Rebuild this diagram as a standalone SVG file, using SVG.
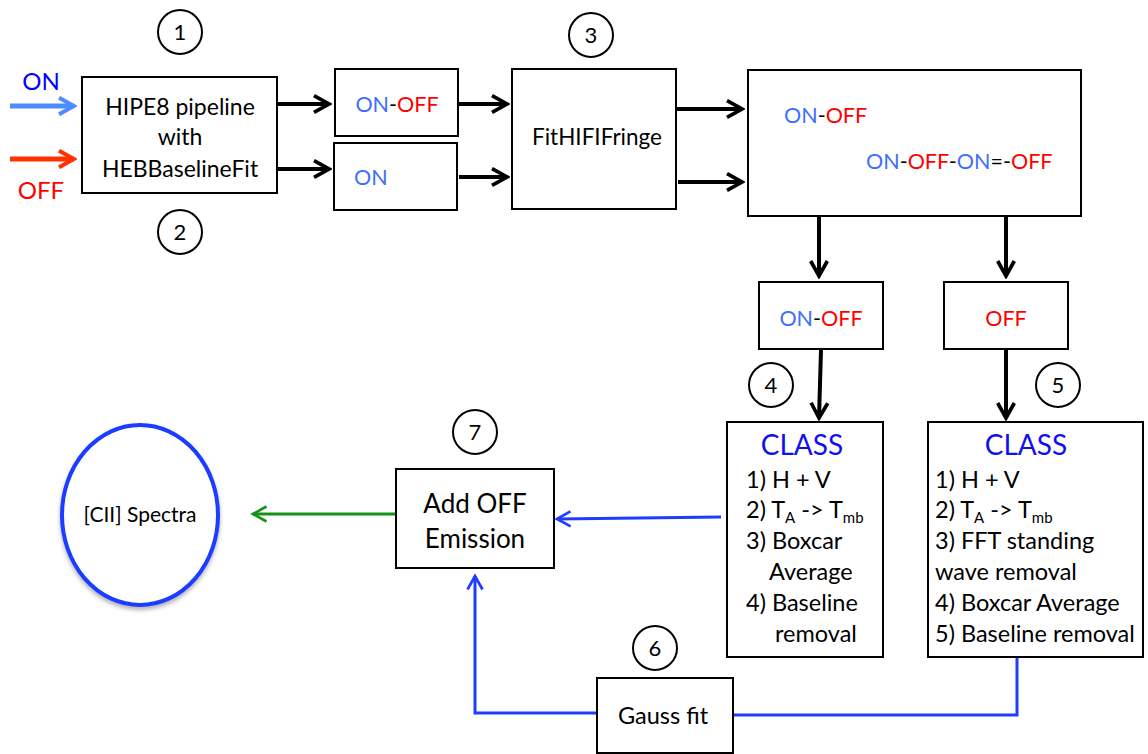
<svg xmlns="http://www.w3.org/2000/svg" width="1148" height="754" viewBox="0 0 1148 754">
<defs>
<style>
text{font-family:Lato,"Open Sans","Liberation Sans",sans-serif;fill:#000}
.box{fill:#fff;stroke:#000;stroke-width:2}
.num{fill:#fff;stroke:#000;stroke-width:2}
.nt{font-size:22px;text-anchor:middle}
.t{font-size:23px}
.s{font-size:21.5px}
.bl{fill:#3d6fff}
.rd{fill:#ff0000}
.cls{font-size:28px;fill:#1010ee;text-anchor:middle}
.li{font-size:23.5px}
.sub{font-size:15px}
.blk{stroke:#000;stroke-width:4;fill:none}
.blu{stroke:#1f3dff;stroke-width:3;fill:none}
</style>
<marker id="ak" viewBox="0 0 12 12" refX="10" refY="6" markerWidth="5" markerHeight="5" orient="auto" markerUnits="strokeWidth"><path d="M1,1 L10,6 L1,11" fill="none" stroke="#000" stroke-width="2.2"/></marker>
<marker id="ab" viewBox="0 0 12 12" refX="10" refY="6" markerWidth="6" markerHeight="6" orient="auto" markerUnits="strokeWidth"><path d="M1,1 L10,6 L1,11" fill="none" stroke="#1f3dff" stroke-width="1.8"/></marker>
<marker id="ag" viewBox="0 0 12 12" refX="10" refY="6" markerWidth="6" markerHeight="6" orient="auto" markerUnits="strokeWidth"><path d="M1,1 L10,6 L1,11" fill="none" stroke="#149414" stroke-width="1.8"/></marker>
<marker id="alb" viewBox="0 0 12 12" refX="10" refY="6" markerWidth="4" markerHeight="4" orient="auto" markerUnits="strokeWidth"><path d="M1,1 L10,6 L1,11" fill="none" stroke="#4d8bff" stroke-width="2.4"/></marker>
<marker id="ar" viewBox="0 0 12 12" refX="10" refY="6" markerWidth="4" markerHeight="4" orient="auto" markerUnits="strokeWidth"><path d="M1,1 L10,6 L1,11" fill="none" stroke="#ff3300" stroke-width="2.4"/></marker>
<filter id="sh" x="-20%" y="-20%" width="140%" height="140%"><feDropShadow dx="0" dy="3" stdDeviation="2" flood-color="#000" flood-opacity="0.3"/></filter>
</defs>
<rect width="1148" height="754" fill="#fff"/>

<g id="connectors">
<line x1="10" y1="106" x2="74" y2="106" stroke="#4d8bff" stroke-width="5" marker-end="url(#alb)"/>
<line x1="10" y1="159" x2="74" y2="159" stroke="#ff3300" stroke-width="5" marker-end="url(#ar)"/>
<line x1="278" y1="104" x2="329" y2="104" class="blk" marker-end="url(#ak)"/>
<line x1="278" y1="169" x2="329" y2="169" class="blk" marker-end="url(#ak)"/>
<line x1="459" y1="104" x2="507" y2="104" class="blk" marker-end="url(#ak)"/>
<line x1="459" y1="177" x2="507" y2="177" class="blk" marker-end="url(#ak)"/>
<line x1="677" y1="109" x2="742" y2="109" class="blk" marker-end="url(#ak)"/>
<line x1="678" y1="182" x2="742" y2="182" class="blk" marker-end="url(#ak)"/>
<line x1="819" y1="137" x2="819" y2="276" class="blk" marker-end="url(#ak)"/>
<line x1="1006" y1="182" x2="1006" y2="276" class="blk" marker-end="url(#ak)"/>
<line x1="821" y1="350" x2="819" y2="418" class="blk" marker-end="url(#ak)"/>
<line x1="1006" y1="350" x2="1006" y2="418" class="blk" marker-end="url(#ak)"/>
<line x1="721" y1="517" x2="557" y2="519" class="blu" marker-end="url(#ab)"/>
<line x1="396" y1="514" x2="253" y2="514" stroke="#149414" stroke-width="3" marker-end="url(#ag)"/>
<polyline points="597,713 475,713 475,576" class="blu" marker-end="url(#ab)"/>
<polyline points="1017,658 1017,715 734,715" class="blu"/>
</g>

<g id="in-labels">
<text x="41" y="90" style="fill:#0000ff;font-size:24px" text-anchor="middle">ON</text>
<text x="41" y="199" style="fill:#ff0000;font-size:24px" text-anchor="middle">OFF</text>
</g>

<g id="n1"><circle cx="180" cy="32" r="22" class="num"/><text x="180" y="40" class="nt">1</text></g>
<g id="n2"><circle cx="180" cy="232" r="22" class="num"/><text x="180" y="240" class="nt">2</text></g>
<g id="n3"><circle cx="591" cy="35" r="22" class="num"/><text x="591" y="43" class="nt">3</text></g>
<g id="n4"><circle cx="771" cy="385" r="22" class="num"/><text x="771" y="393" class="nt">4</text></g>
<g id="n5"><circle cx="1058" cy="385" r="22" class="num"/><text x="1058" y="393" class="nt">5</text></g>
<g id="n6"><circle cx="655" cy="648" r="22" class="num"/><text x="655" y="656" class="nt">6</text></g>
<g id="n7"><circle cx="475" cy="432" r="22" class="num"/><text x="475" y="440" class="nt">7</text></g>

<g id="hipe">
<rect x="82" y="77" width="195" height="116" class="box"/>
<text x="180" y="115" class="t" text-anchor="middle">HIPE8 pipeline</text>
<text x="180" y="145" class="t" text-anchor="middle">with</text>
<text x="180" y="177" class="t" text-anchor="middle">HEBBaselineFit</text>
</g>

<g id="onoff1">
<rect x="335" y="69" width="123" height="67" class="box"/>
<text x="397" y="112" class="s" text-anchor="middle"><tspan class="bl">ON</tspan>-<tspan class="rd">OFF</tspan></text>
</g>
<g id="on1">
<rect x="334" y="143" width="123" height="67" class="box"/>
<text x="354" y="185" class="s bl">ON</text>
</g>

<g id="fringe">
<rect x="512" y="69" width="164" height="140" class="box"/>
<text x="597" y="145" font-size="22.5" text-anchor="middle">FitHIFIFringe</text>
</g>

<g id="result">
<rect x="748" y="70" width="333" height="146" class="box"/>
<text x="784" y="123" class="s"><tspan class="bl">ON</tspan>-<tspan class="rd">OFF</tspan></text>
<text x="866" y="169" class="s"><tspan class="bl">ON</tspan>-<tspan class="rd">OFF</tspan>-<tspan class="bl">ON</tspan>=-<tspan class="rd">OFF</tspan></text>
</g>

<g id="onoff2">
<rect x="759" y="282" width="124" height="67" class="box"/>
<text x="821" y="326" class="s" text-anchor="middle"><tspan class="bl">ON</tspan>-<tspan class="rd">OFF</tspan></text>
</g>
<g id="off2">
<rect x="944" y="282" width="124" height="67" class="box"/>
<text x="1006" y="326" class="s rd" text-anchor="middle">OFF</text>
</g>

<g id="class1">
<rect x="727" y="422" width="156" height="235" class="box"/>
<text x="802" y="455" class="cls">CLASS</text>
<text x="746" y="488" class="li">1) H + V</text>
<text x="746" y="518" class="li">2) T<tspan class="sub" dy="5">A</tspan><tspan dy="-5"> -&gt; T</tspan><tspan class="sub" dy="5">mb</tspan></text>
<text x="746" y="549" class="li">3) Boxcar</text>
<text x="769" y="580" class="li">Average</text>
<text x="746" y="611" class="li">4) Baseline</text>
<text x="775" y="642" class="li">removal</text>
</g>

<g id="class2">
<rect x="928" y="422" width="215" height="235" class="box"/>
<text x="1026" y="455" class="cls">CLASS</text>
<text x="935" y="488" class="li">1) H + V</text>
<text x="935" y="518" class="li">2) T<tspan class="sub" dy="5">A</tspan><tspan dy="-5"> -&gt; T</tspan><tspan class="sub" dy="5">mb</tspan></text>
<text x="935" y="549" class="li">3) FFT standing</text>
<text x="935" y="580" class="li">wave removal</text>
<text x="935" y="611" class="li">4) Boxcar Average</text>
<text x="935" y="642" class="li">5) Baseline removal</text>
</g>

<g id="addoff">
<rect x="396" y="469" width="158" height="99" class="box"/>
<text x="475" y="513" font-size="26" text-anchor="middle">Add OFF</text>
<text x="475" y="548" font-size="26" text-anchor="middle">Emission</text>
</g>

<g id="gauss">
<rect x="597" y="678" width="136" height="75" class="box"/>
<text x="663" y="724" font-size="23.5" text-anchor="middle">Gauss fit</text>
</g>

<g id="spectra">
<ellipse cx="140" cy="515" rx="78" ry="90" fill="#fff" stroke="#1a3dff" stroke-width="4" filter="url(#sh)"/>
<text x="140" y="522" font-size="21" text-anchor="middle">[CII] Spectra</text>
</g>
</svg>
